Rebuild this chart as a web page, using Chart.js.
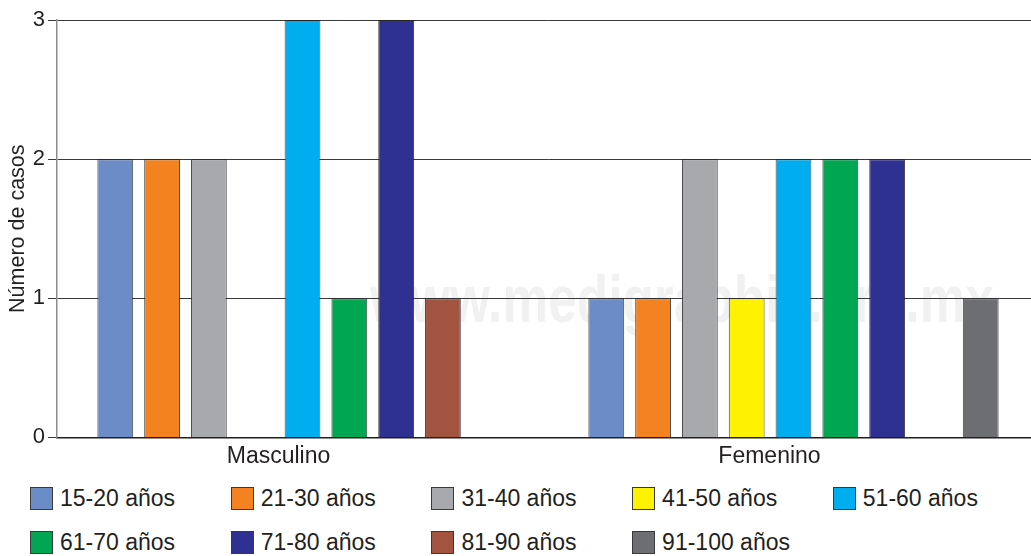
<!DOCTYPE html>
<html lang="es">
<head>
<meta charset="utf-8">
<title>Número de casos por sexo y grupo de edad</title>
<script src="https://cdn.jsdelivr.net/npm/chart.js@4.4.1/dist/chart.umd.min.js"></script>
<style>
  html, body { margin: 0; padding: 0; background: #fff; overflow: hidden; }
  body { width: 1031px; height: 556px; position: relative; font-family: "Liberation Sans", Arial, sans-serif; color: #231f20; }
  #wrap { position: absolute; left: 0; top: 0; width: 1039px; height: 475px; }
  #legend { position: absolute; left: 0; top: 487px; width: 1031px; }
  .item { position: absolute; display: flex; align-items: center; height: 23px; font-size: 23px; white-space: nowrap; }
  .swatch { width: 21px; height: 21px; border: 1px solid #3a3a3a; margin-right: 7px; flex: none; }
</style>
</head>
<body>
<div id="wrap"><canvas id="chart"></canvas></div>
<div id="legend"></div>
<script>
// Categories (sex) and age groups
const categories = ["Masculino", "Femenino"];
const ageGroups = ["15-20 años", "21-30 años", "31-40 años", "41-50 años", "51-60 años",
                   "61-70 años", "71-80 años", "81-90 años", "91-100 años"];

// Number of cases per age group: [Masculino, Femenino]
const cases15_20  = [2, 1];
const cases21_30  = [2, 1];
const cases31_40  = [2, 2];
const cases41_50  = [0, 1];
const cases51_60  = [3, 2];
const cases61_70  = [1, 2];
const cases71_80  = [3, 2];
const cases81_90  = [1, 0];
const cases91_100 = [0, 1];

const yTicks = [0, 1, 2, 3];

const seriesValues = [cases15_20, cases21_30, cases31_40, cases41_50, cases51_60,
                      cases61_70, cases71_80, cases81_90, cases91_100];
const seriesColors = ["#6c8cc7", "#f58220", "#a7a9ac", "#fff200", "#00aeef",
                      "#00a651", "#2e3192", "#a35441", "#6d6e71"];

const FONT = '"Liberation Sans", Arial, sans-serif';
const INK = "#231f20";

// Faint site watermark drawn behind the grid and bars
const watermark = {
  id: "watermark",
  beforeDraw(chart) {
    const ctx = chart.ctx;
    const text = "www.medigraphic.org.mx";
    ctx.save();
    ctx.font = "bold 66px " + FONT;
    const w = ctx.measureText(text).width;
    ctx.translate(370, 322);
    ctx.scale(624 / w, 1);
    ctx.fillStyle = "#f1f1f1";
    ctx.textBaseline = "alphabetic";
    ctx.textAlign = "left";
    ctx.fillText(text, 0, 0);
    ctx.restore();
  }
};

const datasets = ageGroups.map((label, i) => ({
  label,
  data: seriesValues[i],
  backgroundColor: seriesColors[i],
  borderColor: "rgba(35,31,32,0.8)",
  borderWidth: 1,
  categoryPercentage: 0.858,
  barPercentage: 0.765
}));

new Chart(document.getElementById("chart"), {
  type: "bar",
  data: { labels: categories, datasets },
  plugins: [watermark],
  options: {
    responsive: true,
    maintainAspectRatio: false,
    animation: false,
    layout: { padding: { top: 20, right: 0, bottom: 0, left: 0 } },
    plugins: {
      legend: { display: false },
      tooltip: { enabled: false }
    },
    scales: {
      x: {
        grid: { display: false, drawTicks: false },
        border: { display: true, color: INK, width: 1.5 },
        ticks: {
          color: INK,
          font: { family: FONT, size: 23 },
          padding: 5,
          labelOffset: -24
        }
      },
      y: {
        min: 0,
        max: 3,
        afterBuildTicks: s => { s.ticks = yTicks.map(v => ({ value: v })); },
        afterFit: s => { s.width = 57; },
        grid: { color: "#3a3a3a", lineWidth: 1, tickLength: 9, tickColor: "#3a3a3a" },
        border: { display: true, color: "#8c8c8c", width: 1.5 },
        ticks: {
          color: INK,
          font: { family: FONT, size: 22 },
          padding: 3
        },
        title: {
          display: true,
          text: "Número de casos",
          color: INK,
          font: { family: FONT, size: 21.5 },
          padding: { top: 5, bottom: 0 }
        }
      }
    }
  }
});

// Legend: two rows of five columns
const legend = document.getElementById("legend");
ageGroups.forEach((label, i) => {
  const item = document.createElement("div");
  item.className = "item";
  item.style.left = (30 + (i % 5) * 200.7) + "px";
  item.style.top = (Math.floor(i / 5) * 44) + "px";
  const sw = document.createElement("span");
  sw.className = "swatch";
  sw.style.background = seriesColors[i];
  const tx = document.createElement("span");
  tx.textContent = label;
  item.appendChild(sw);
  item.appendChild(tx);
  legend.appendChild(item);
});
</script>
</body>
</html>
